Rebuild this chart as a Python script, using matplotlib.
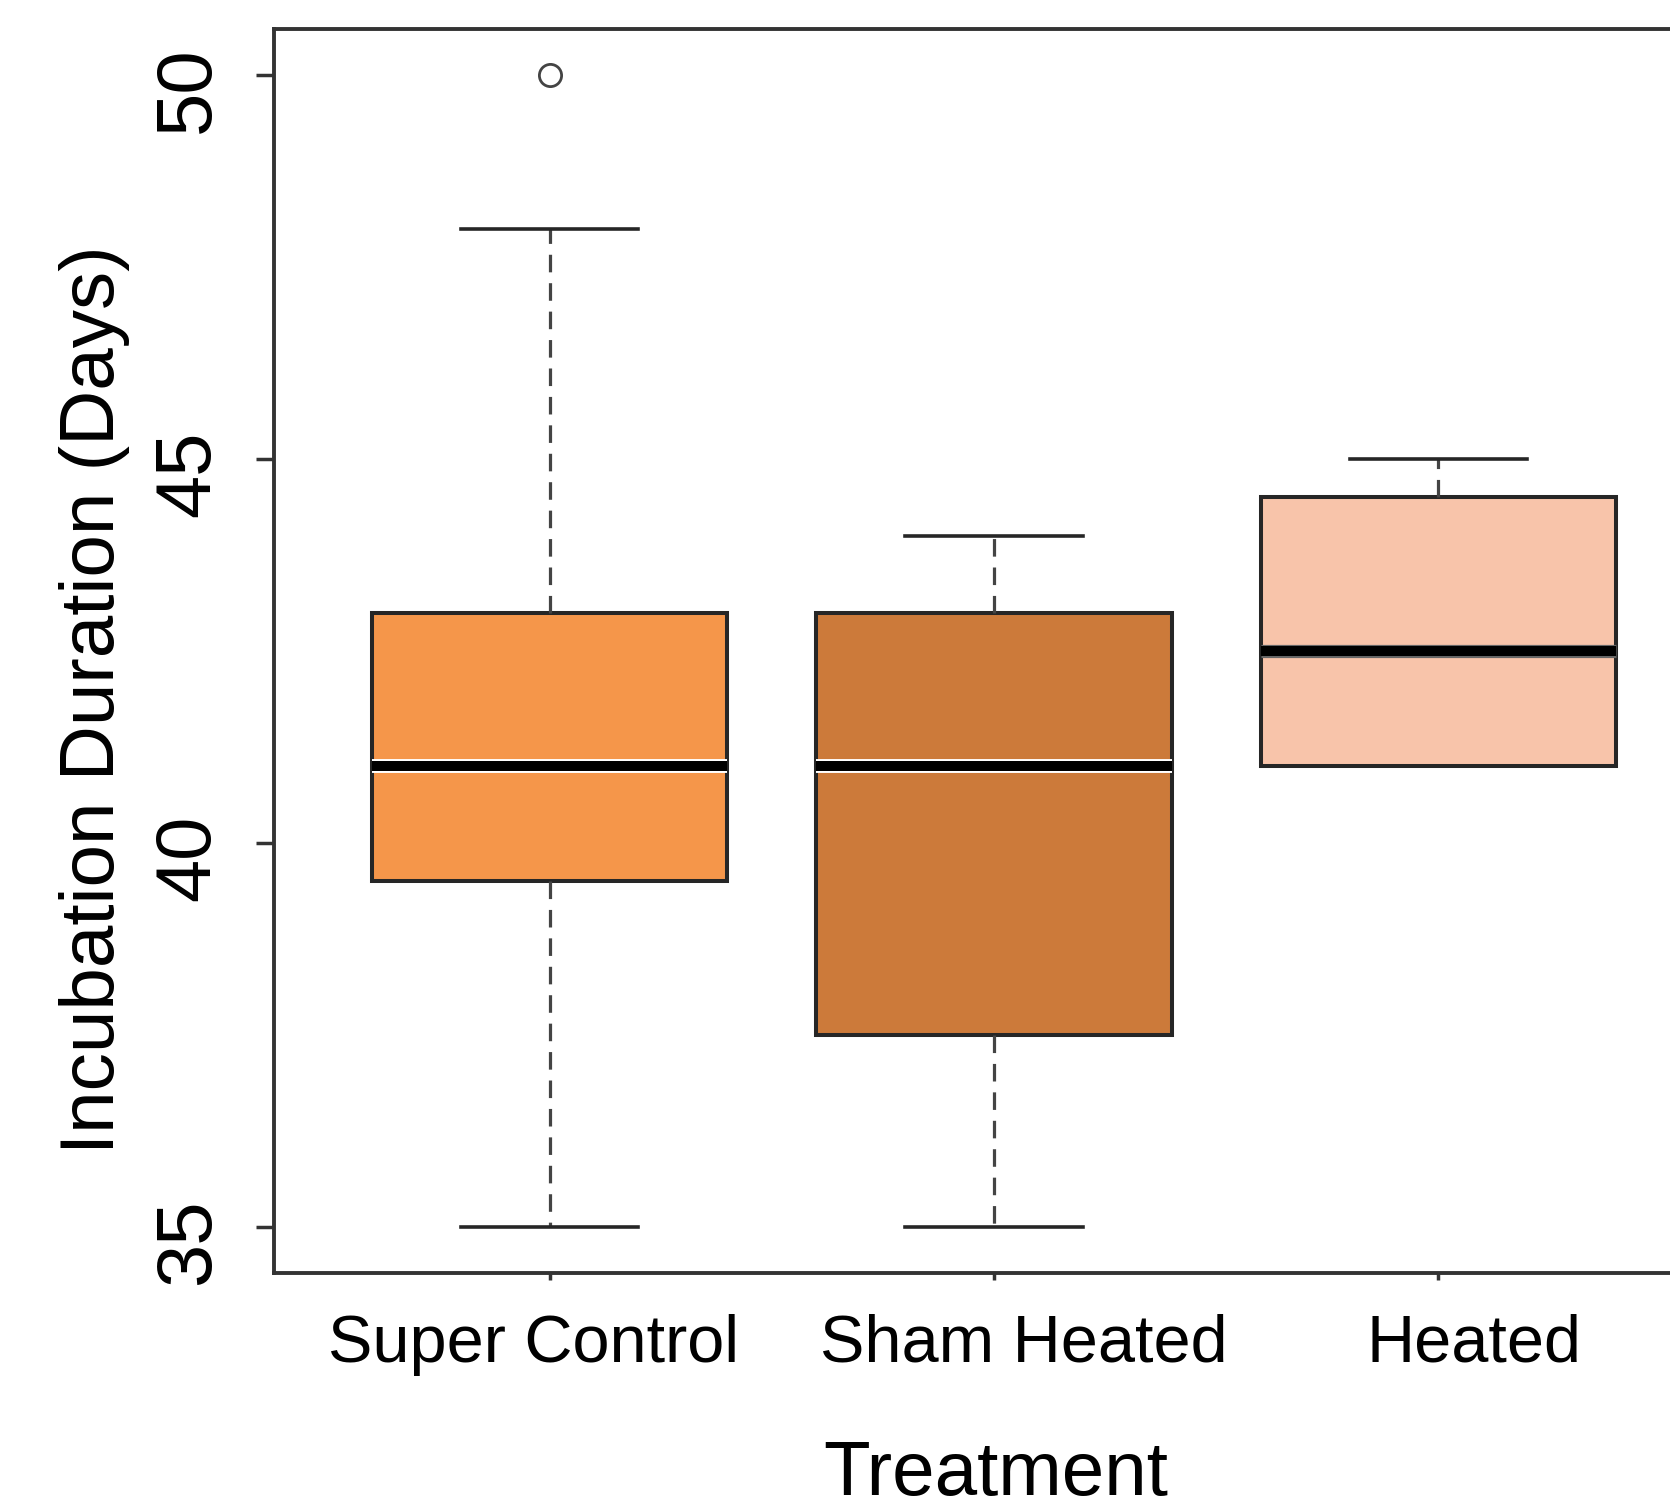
import matplotlib
matplotlib.use("Agg")
import matplotlib.pyplot as plt
import matplotlib.patheffects as pe
from matplotlib.transforms import blended_transform_factory, ScaledTranslation

plt.rcParams['font.family'] = ['Liberation Sans', 'DejaVu Sans']

# ---- data ----
categories = ['Super Control', 'Sham Heated', 'Heated']
q1_vals = [39.5, 37.5, 41.0]
median_vals = [41.0, 41.0, 42.5]
q3_vals = [43.0, 43.0, 44.5]
whisker_low = [35.0, 35.0, 41.0]
whisker_high = [48.0, 44.0, 45.0]
outliers = [[50.0], [], []]
y_ticks = [35, 40, 45, 50]
box_colors = ['#F5964A', '#CC7A3A', '#F8C4AA']

W, H, DPI = 1670, 1508, 100
fig = plt.figure(figsize=(W / DPI, H / DPI), dpi=DPI)
ax_left, ax_right, ax_top, ax_bottom = 274, 1714, 29, 1273
ax = fig.add_axes([ax_left / W, 1 - ax_bottom / H,
                   (ax_right - ax_left) / W, (ax_bottom - ax_top) / H])

stats = []
for i, name in enumerate(categories):
    stats.append(dict(label=name, q1=q1_vals[i], med=median_vals[i], q3=q3_vals[i],
                      whislo=whisker_low[i], whishi=whisker_high[i],
                      fliers=outliers[i]))
positions = list(range(1, len(categories) + 1))

edge = '#262626'
bp = ax.bxp(stats, positions=positions, widths=0.8, patch_artist=True,
            showfliers=True,
            boxprops=dict(edgecolor=edge, linewidth=2.9),
            medianprops=dict(color='black', linewidth=7.2, solid_capstyle='butt'),
            whiskerprops=dict(color='#444444', linewidth=2.3, linestyle=(0, (5.5, 3.4))),
            capprops=dict(color=edge, linewidth=2.6),
            flierprops=dict(marker='o', markersize=16, markerfacecolor='none',
                            markeredgecolor='#444444', markeredgewidth=2.0))
for patch, c in zip(bp['boxes'], box_colors):
    patch.set_facecolor(c)
    patch.set_path_effects([pe.Stroke(linewidth=5.5, foreground='white'), pe.Normal()])
for med in bp['medians'][:2]:
    med.set_path_effects([pe.Stroke(linewidth=10.0, foreground='white'), pe.Normal()])
bp['medians'][2].set_path_effects([pe.Stroke(linewidth=9.5, foreground='#666666'), pe.Normal()])

ax.set_xlim(0.38, 3.62)
ax.set_ylim(34.4, 50.6)

for s in ax.spines.values():
    s.set_color('#333333')
    s.set_linewidth(2.8)
ax.spines['right'].set_visible(False)

# ticks
ax.set_xticks(positions)
ax.set_xticklabels([''] * len(positions))
ax.tick_params(axis='x', length=5, width=2.5, color='#333333')
ax.set_yticks(y_ticks)
ax.set_yticklabels([str(t) for t in y_ticks])
ax.tick_params(axis='y', length=13, width=2.5, color='#333333', labelsize=56,
               labelrotation=90, pad=22)

# category labels (slightly shifted as in the reference)
label_dx_px = [-16, 30, 36]
trans = blended_transform_factory(ax.transData, fig.transFigure)
for pos, name, dx in zip(positions, categories, label_dx_px):
    ax.text(pos, 1 - 1362 / H, name, ha='center', va='baseline', fontsize=48,
            transform=trans + ScaledTranslation(dx / DPI, 0, fig.dpi_scale_trans))

fig.text(996 / W, 1 - 1495 / H, 'Treatment', ha='center', va='baseline', fontsize=55)
fig.text(95 / W, 1 - 700 / H, 'Incubation Duration (Days)', rotation=90,
         ha='center', va='center', fontsize=55)

fig.savefig('out.png', dpi=DPI, facecolor='white')
